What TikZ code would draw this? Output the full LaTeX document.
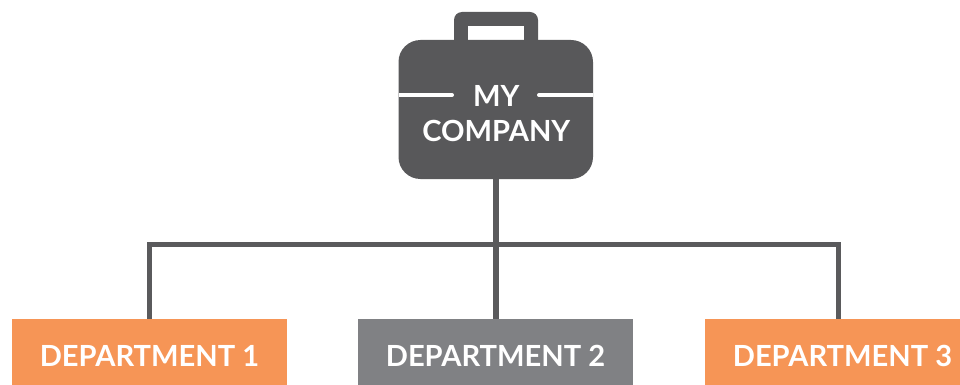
\documentclass[tikz,border=0pt]{standalone}
\usepackage{fontspec}
\setmainfont{Lato}
\definecolor{bagdark}{HTML}{58585A}
\definecolor{lineDark}{HTML}{5A5A5C}
\definecolor{orangebox}{HTML}{F69556}
\definecolor{greybox}{HTML}{808184}
\tikzset{
  deptbox/.style={minimum width=275pt,minimum height=66pt,inner sep=0pt,text=white,font=\fontsize{29.1}{32}\selectfont\bfseries,text height=28.5pt,text depth=0pt},
  linkline/.style={draw=lineDark,line width=5.2pt},
  bagline/.style={draw=white,line width=4pt}
}
\begin{document}
\begin{tikzpicture}[x=1pt,y=-1pt]
\useasboundingbox (0,0) rectangle (960,385);
\clip (0,0) rectangle (960,385);
% briefcase
\fill[bagdark,rounded corners=8pt] (454,48) -- (454,12) -- (538,12) -- (538,48) -- cycle;
\fill[white] (468,26) rectangle (524,42);
\fill[bagdark,rounded corners=22pt] (398.5,40) rectangle (593,179);
\draw[bagline] (398.5,95) -- (452,95);
\draw[bagline] (593,95) -- (539,95);
\fill[white] (452,93) arc[start angle=90,end angle=-90,radius=2pt] -- cycle;
\fill[white] (539,93) arc[start angle=90,end angle=270,radius=2pt] -- cycle;
\node[font=\fontsize{29.1}{35}\selectfont\bfseries,text=white,align=center,inner sep=0pt] (company) at (496.3,113.5) {MY\\COMPANY};
\coordinate (bagbottom) at (496,179);
% departments
\node[deptbox,fill=orangebox] (d1) at (149.5,352) {DEPARTMENT 1};
\node[deptbox,fill=greybox] (d2) at (495.5,352) {DEPARTMENT 2};
\node[deptbox,fill=orangebox] (d3) at (842.5,352) {DEPARTMENT 3};
\coordinate (bus) at (496,244.6);
% connectors
\draw[linkline] (bagbottom) -- (d2.north -| bagbottom);
\draw[linkline,line join=miter] (d1.north) -- (d1.north |- bus) -- (bus -| 838.5,0) -- (838.5,319);
\end{tikzpicture}
\end{document}
